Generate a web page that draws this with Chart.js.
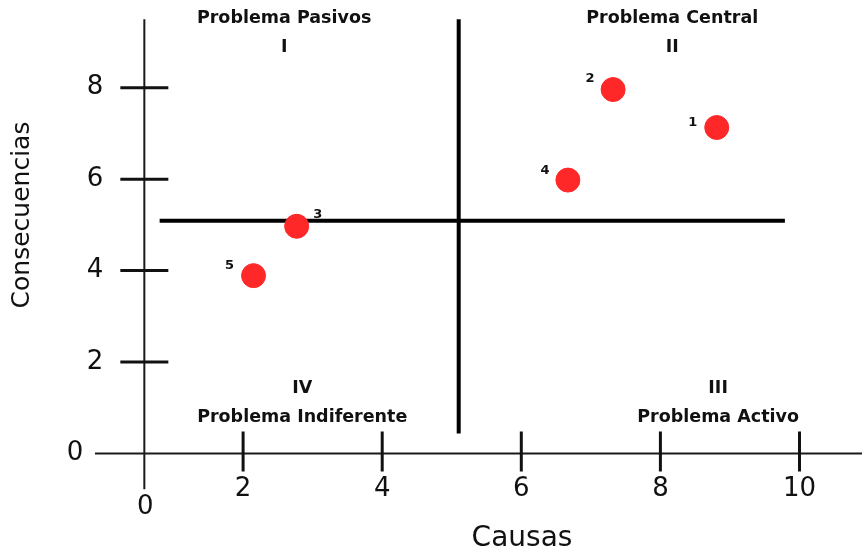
<!DOCTYPE html>
<html>
<head>
<meta charset="utf-8">
<script src="https://cdn.jsdelivr.net/npm/chart.js@4.4.1/dist/chart.umd.min.js"></script>
<style>
  html, body { margin: 0; padding: 0; background: #fff; }
  #wrap { width: 862px; height: 552px; position: relative; }
</style>
</head>
<body>
<div id="wrap"><canvas id="matriz"></canvas></div>
<script>
// datos de la matriz de Vester
const problemIds = ["1", "2", "3", "4", "5"];
const causas = [8.81, 7.32, 2.77, 6.67, 2.15];
const consecuencias = [7.13, 7.96, 4.97, 5.98, 3.89];

const xTicks = [0, 2, 4, 6, 8, 10];
const yTicks = [0, 2, 4, 6, 8];

const quadNames = ["Problema Pasivos", "Problema Central", "Problema Activo", "Problema Indiferente"];
const quadNumbers = ["I", "II", "III", "IV"];

const corteX = 5.1;   // línea vertical de cuadrantes
const corteY = 5.09;  // línea horizontal de cuadrantes

const FONT = "'DejaVu Sans', sans-serif";

// offset de la etiqueta de cada punto (px)
const labelOffsets = [[-24, -5], [-23, -11], [21, -12], [-23, -9], [-24, -10]];

function line(ctx, x1, y1, x2, y2, w, color) {
    ctx.beginPath();
    ctx.lineWidth = w;
    ctx.strokeStyle = color;
    ctx.moveTo(x1, y1);
    ctx.lineTo(x2, y2);
    ctx.stroke();
}

const ejesPlugin = {
    id: "ejes",
    beforeDatasetsDraw(chart) {
        const ctx = chart.ctx;
        const xs = chart.scales.x, ys = chart.scales.y;
        const axisX = xs.getPixelForValue(0.58);
        const axisY = ys.getPixelForValue(0);
        ctx.save();
        ctx.lineCap = "butt";
        // ejes
        line(ctx, axisX, ys.getPixelForValue(9.5), axisX, ys.getPixelForValue(-0.78), 2, "#1a1a1a");
        line(ctx, xs.getPixelForValue(-0.13), axisY, chart.width, axisY, 2, "#1a1a1a");
        // marcas
        yTicks.forEach(v => {
            if (v === 0) return;
            const py = ys.getPixelForValue(v);
            line(ctx, axisX - 24, py, axisX + 24, py, 3, "#111");
        });
        xTicks.forEach(v => {
            if (v === 0) return;
            const px = xs.getPixelForValue(v);
            line(ctx, px, axisY - 22, px, axisY + 18, 3, "#111");
        });
        // lineas de cuadrantes
        const cx = xs.getPixelForValue(corteX);
        const cy = ys.getPixelForValue(corteY);
        line(ctx, cx, ys.getPixelForValue(9.5), cx, ys.getPixelForValue(0.44), 4, "#000");
        line(ctx, xs.getPixelForValue(0.8), cy, xs.getPixelForValue(9.79), cy, 4, "#000");
        ctx.restore();
    },
    afterDatasetsDraw(chart) {
        const ctx = chart.ctx;
        const xs = chart.scales.x, ys = chart.scales.y;
        const axisX = xs.getPixelForValue(0.58);
        const axisY = ys.getPixelForValue(0);
        ctx.save();
        ctx.fillStyle = "#111";
        ctx.textAlign = "center";
        ctx.textBaseline = "middle";

        // etiquetas de ticks
        ctx.font = "26px " + FONT;
        yTicks.forEach(v => {
            const px = v === 0 ? 75 : 95;
            ctx.fillText(String(v), px, ys.getPixelForValue(v));
        });
        xTicks.forEach(v => {
            if (v === 0) {
                ctx.fillText("0", axisX + 1, axisY + 54);
            } else {
                ctx.fillText(String(v), xs.getPixelForValue(v), axisY + 36);
            }
        });

        // titulos de ejes
        ctx.font = "28px " + FONT;
        ctx.fillText("Causas", 522, 539);
        ctx.save();
        ctx.translate(22, 215);
        ctx.rotate(-Math.PI / 2);
        ctx.font = "25px " + FONT;
        ctx.fillText("Consecuencias", 0, 0);
        ctx.restore();

        // cuadrantes
        ctx.font = "bold 17.5px " + FONT;
        const top1 = ys.getPixelForValue(9.52), top2 = ys.getPixelForValue(8.87);
        const bot1 = ys.getPixelForValue(1.43), bot2 = ys.getPixelForValue(0.78);
        ctx.fillText(quadNames[0], xs.getPixelForValue(2.59), top1);
        ctx.fillText(quadNumbers[0], xs.getPixelForValue(2.59), top2);
        ctx.fillText(quadNames[1], xs.getPixelForValue(8.17), top1);
        ctx.fillText(quadNumbers[1], xs.getPixelForValue(8.17), top2);
        ctx.fillText(quadNumbers[2], xs.getPixelForValue(8.83), bot1);
        ctx.fillText(quadNames[2], xs.getPixelForValue(8.83), bot2);
        ctx.fillText(quadNumbers[3], xs.getPixelForValue(2.85), bot1);
        ctx.fillText(quadNames[3], xs.getPixelForValue(2.85), bot2);

        // numeros de los puntos
        ctx.font = "bold 13px " + FONT;
        const meta = chart.getDatasetMeta(0);
        meta.data.forEach((pt, i) => {
            const off = labelOffsets[i];
            ctx.fillText(problemIds[i], pt.x + off[0], pt.y + off[1]);
        });
        ctx.restore();
    }
};

const ctx = document.getElementById("matriz").getContext("2d");
new Chart(ctx, {
    type: "scatter",
    data: {
        datasets: [{
            label: "Problemas",
            data: causas.map((c, i) => ({ x: c, y: consecuencias[i] })),
            backgroundColor: "rgb(255, 40, 40)",
            borderColor: "rgb(255, 40, 40)",
            borderWidth: 1,
            pointRadius: 12,
            pointHoverRadius: 12,
            clip: false
        }]
    },
    options: {
        responsive: true,
        maintainAspectRatio: false,
        animation: false,
        layout: { padding: { left: 104, right: 62.5, top: 42, bottom: 98.5 } },
        plugins: {
            legend: { display: false },
            tooltip: { enabled: false }
        },
        scales: {
            x: { type: "linear", min: 0, max: 10, display: false },
            y: { type: "linear", min: 0, max: 9, display: false }
        }
    },
    plugins: [ejesPlugin]
});
</script>
</body>
</html>
